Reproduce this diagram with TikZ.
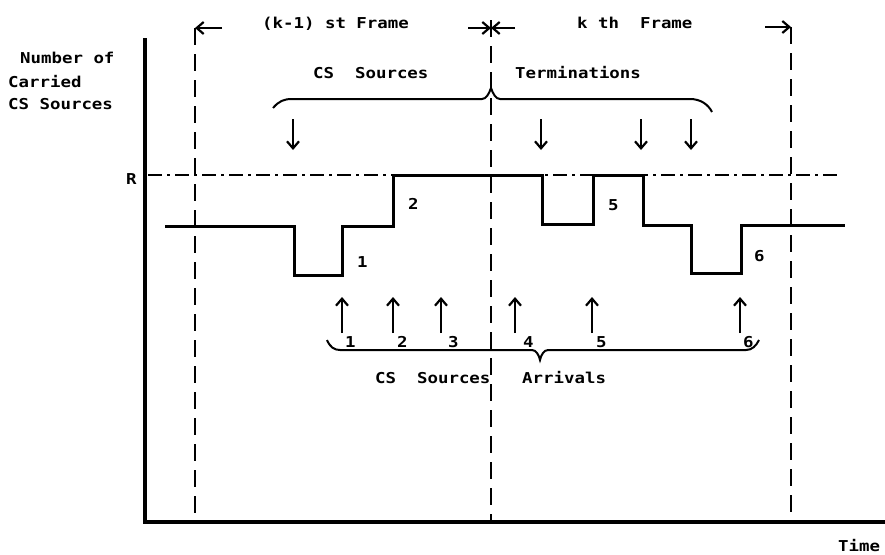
\documentclass[tikz,border=0pt]{standalone}
\usepackage{fontspec}
\newfontfamily\tw{DejaVu Sans Mono}[FakeStretch=1.16]
\usetikzlibrary{arrows.meta}
\begin{document}
\begin{tikzpicture}[x=1pt,y=-1pt,
 txt/.style={font=\tw\bfseries\fontsize{15}{17}\selectfont, inner sep=0pt, anchor=base west},
 axisline/.style={line width=3.2pt, line join=miter},
 frameline/.style={line width=2.2pt, dash pattern=on 17pt off 9pt},
 rline/.style={line width=2pt, dash pattern=on 14pt off 5pt on 3pt off 5pt},
 stepline/.style={line width=3pt, line join=miter},
 arr/.style={line width=2.2pt, -{Straight Barb[length=7pt,width=12pt,line width=2.2pt]}},
 bracelne/.style={line width=2pt}
]
\useasboundingbox (0,0) rectangle (885,554);

% axes
\coordinate (ytop) at (145,38);
\coordinate (origin) at (145,522);
\coordinate (xend) at (885,522);
\draw[axisline] (ytop) -- (origin) -- (xend);

% frame boundaries
\coordinate (f1top) at (195,28);  \coordinate (f1bot) at (195,522);
\coordinate (f2top) at (491,20);  \coordinate (f2mid) at (491,28); \coordinate (f2bot) at (491,522);
\coordinate (f3top) at (791,27);  \coordinate (f3bot) at (791,522);
\draw[frameline] (f1top) -- (f1bot);
\draw[frameline] (f2top) -- (f2bot);
\draw[frameline] (f3top) -- (f3bot);

\coordinate (a1) at (222,28);
\coordinate (a2) at (468,28);
\coordinate (a3) at (515,28);
\coordinate (a4) at (765,27);
\draw[arr] (a1) -- (f1top);
\draw[arr] (a2) -- (f2mid);
\draw[arr] (a3) -- (f2mid);
\draw[arr] (a4) -- (f3top);

% R level
\coordinate (rs) at (148,175);
\coordinate (re) at (837,175);
\draw[rline] (rs) -- (re);

% step function
\draw[stepline] (165,226) -- (294,226) -- (294,275) -- (342,275) -- (342,226)
  -- (393,226) -- (393,175) -- (542,175) -- (542,224) -- (593,224) -- (593,175)
  -- (643,175) -- (643,225) -- (691,225) -- (691,273) -- (741,273) -- (741,225)
  -- (845,225);

% top brace
\draw[bracelne] (273,108) .. controls (279,101) and (284,99) .. (292,99) -- (482,99)
  .. controls (486,99) and (489,94) .. (491,88)
  .. controls (493,94) and (496,99) .. (500,99) -- (690,99)
  .. controls (700,99) and (708,104) .. (712,112);

% termination arrows
\foreach \x [count=\i] in {293,541,641,691} {
  \coordinate (ts\i) at (\x,119);
  \coordinate (te\i) at (\x,150);
  \draw[arr] (ts\i) -- (te\i);
}

% arrival arrows
\foreach \x [count=\i] in {342,393,441,515,592,740} {
  \coordinate (as\i) at (\x,333);
  \coordinate (ae\i) at (\x,297);
  \draw[arr] (as\i) -- (ae\i);
}

% bottom brace
\draw[bracelne] (327,340) .. controls (330,347) and (334,350) .. (340,350) -- (532,350)
  .. controls (536,350) and (539,355) .. (540,360)
  .. controls (541,355) and (544,350) .. (548,350) -- (746,350)
  .. controls (752,350) and (756,346) .. (759,340);

% texts
\node[txt] (kmf) at (262,28) {(k-1) st Frame};
\node[txt] (kf) at (577,28) {k th\ \ Frame};
\node[txt] (css) at (313,78) {CS\ \ Sources};
\node[txt] (term) at (515,78) {Terminations};
\node[txt] (yl1) at (20,63) {Number of};
\node[txt] (yl2) at (8,87) {Carried};
\node[txt] (yl3) at (8,109) {CS Sources};
\node[txt] (rl) at (126,184) {R};
\node[txt] (s1) at (357,267) {1};
\node[txt] (s2) at (408,209) {2};
\node[txt] (s5) at (608,210) {5};
\node[txt] (s6) at (754,261) {6};
\foreach \x [count=\i] in {345,397,448,523,596,743} {
  \node[txt] (n\i) at (\x,347) {\i};
}
\node[txt] (csa) at (375,383) {CS\ \ Sources};
\node[txt] (arrv) at (522,383) {Arrivals};
\node[txt] (time) at (838,551) {Time};
\end{tikzpicture}
\end{document}
